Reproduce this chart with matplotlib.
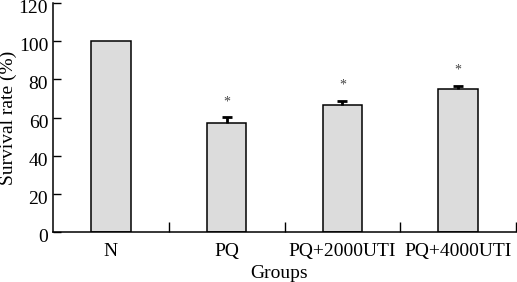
import matplotlib
matplotlib.use("Agg")
import matplotlib.pyplot as plt
import matplotlib.transforms as mtransforms

categories = ["N", "PQ", "PQ+2000UTI", "PQ+4000UTI"]
survival = [100, 57.2, 66.6, 75.0]
errors = [0, 3.0, 2.3, 1.7]
significant = [False, True, True, True]
yticks = [0, 20, 40, 60, 80, 100, 120]

plt.rcParams["font.family"] = ["Liberation Serif", "DejaVu Serif"]

fig = plt.figure(figsize=(5.17, 2.82), dpi=100)
ax = fig.add_axes([53 / 517, (282 - 232.3) / 282, 463 / 517, 229.3 / 282])

x = list(range(len(categories)))
ax.bar(x, survival, width=0.34, color="#dcdcdc", edgecolor="black", linewidth=1.1, zorder=2)
for xi, v, e in zip(x, survival, errors):
    if e > 0:
        ax.vlines(xi, v, v + e, colors="black", linewidth=2, zorder=3)
        ax.plot([xi], [v + e], marker="_", markersize=7, markeredgewidth=2,
                color="black", zorder=3)
for xi, v, e, s in zip(x, survival, errors, significant):
    if s:
        ax.text(xi, v + e + 8, "*", ha="center", va="center", fontsize=10, color="#444444")

ax.set_xlim(-0.5, 3.5)
ax.set_ylim(0, 120)
ax.set_yticks(yticks)
ax.set_xticks([0.5, 1.5, 2.5, 3.5])
ax.set_xticklabels([])
ax.set_xticks(x, minor=True)
ax.set_xticklabels(categories, minor=True, fontsize=14)
ax.tick_params(axis="x", which="major", direction="in", length=7, width=1)
ax.tick_params(axis="x", which="minor", length=0, pad=8)
ax.tick_params(axis="y", direction="in", length=6, width=1, labelsize=14, pad=3.5)

offset = mtransforms.ScaledTranslation(0, -2.5 / 72, fig.dpi_scale_trans)
for lbl in ax.get_yticklabels():
    lbl.set_transform(lbl.get_transform() + offset)

for sp in ["top", "right"]:
    ax.spines[sp].set_visible(False)
for sp in ["left", "bottom"]:
    ax.spines[sp].set_linewidth(1.1)

ax.set_ylabel("Survival rate (%)", fontsize=14)
ax.yaxis.set_label_coords(-53 / 463 + 8 / 463, 0.5)
ax.set_xlabel("Groups", fontsize=14)
ax.xaxis.set_label_coords((279 - 53) / 463, -(274 - 232.3) / 229.3)
ax.xaxis.label.set_va("center")
ax.yaxis.label.set_va("center")

fig.savefig("out.png", dpi=100)
